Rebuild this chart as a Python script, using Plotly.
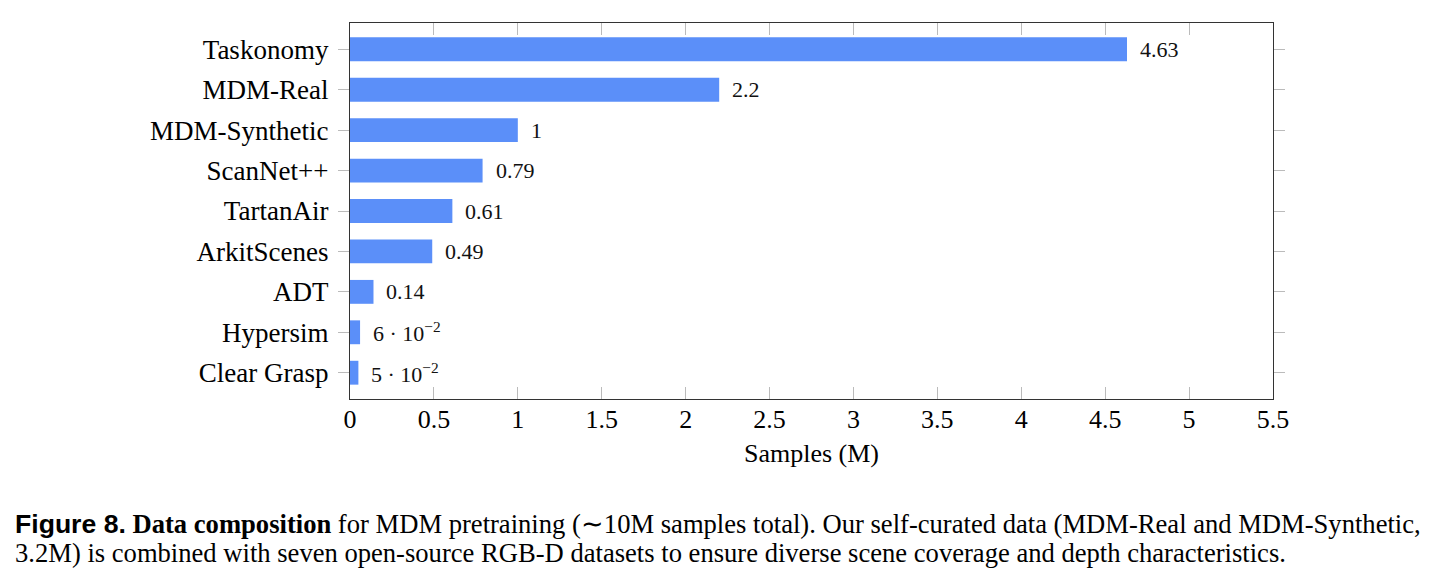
import plotly.graph_objects as go

datasets = ["Taskonomy", "MDM-Real", "MDM-Synthetic", "ScanNet++", "TartanAir",
            "ArkitScenes", "ADT", "Hypersim", "Clear Grasp"]
samples = [4.63, 2.2, 1.0, 0.79, 0.61, 0.49, 0.14, 0.06, 0.05]
value_labels = ["4.63", "2.2", "1", "0.79", "0.61", "0.49", "0.14",
                "6 · 10<sup>−2</sup>", "5 · 10<sup>−2</sup>"]
x_ticks = [0, 0.5, 1, 1.5, 2, 2.5, 3, 3.5, 4, 4.5, 5, 5.5]
x_tick_text = ["0", "0.5", "1", "1.5", "2", "2.5", "3", "3.5", "4", "4.5", "5", "5.5"]

SERIF = "Liberation Serif"
BAR = "#5b8ff9"

fig = go.Figure()
fig.add_trace(go.Bar(
    x=samples, y=datasets, orientation="h",
    marker=dict(color=BAR, line=dict(width=0)),
    width=0.59, hoverinfo="x+y",
))

for d, v, lab in zip(datasets, samples, value_labels):
    fig.add_annotation(x=v, y=d, xref="x", yref="y", text=lab, showarrow=False,
                       xanchor="left", yanchor="middle", xshift=11,
                       font=dict(family=SERIF, size=22, color="#111"))

L, R, T, B = 350, 172, 23, 186
W, H = 1445, 585
pw = W - L - R
ph = H - T - B

def px_x(p):
    return (p - L) / pw

def px_y(p):
    return (H - B - p) / ph

line1 = ("<span style='font-family:Liberation Sans'><b>Figure 8.</b></span> "
         "<b>Data composition</b> for MDM pretraining (∼10M samples total). "
         "Our self-curated data (MDM-Real and MDM-Synthetic,")
line2 = ("3.2M) is combined with seven open-source RGB-D datasets to ensure "
         "diverse scene coverage and depth characteristics.")
fig.add_annotation(x=px_x(13), y=px_y(524), xref="paper", yref="paper", text=line1,
                   showarrow=False, xanchor="left", yanchor="middle",
                   font=dict(family=SERIF, size=26.6, color="#000"))
fig.add_annotation(x=px_x(13), y=px_y(553), xref="paper", yref="paper", text=line2,
                   showarrow=False, xanchor="left", yanchor="middle",
                   font=dict(family=SERIF, size=26.6, color="#000"))

fig.update_layout(
    width=W, height=H,
    margin=dict(l=L, r=R, t=T, b=B),
    paper_bgcolor="white", plot_bgcolor="white",
    showlegend=False,
    font=dict(family=SERIF, color="#000"),
    xaxis=dict(
        range=[0, 5.5], tickvals=x_ticks, ticktext=x_tick_text,
        ticks="inside", ticklen=12, tickcolor="#bbbbbb", tickwidth=1.3,
        showline=True, linecolor="#333", linewidth=1.4, mirror="ticks",
        showgrid=False, zeroline=False, ticklabelstandoff=-3,
        tickfont=dict(family=SERIF, size=26, color="#000"),
        title=dict(text="Samples (M)", font=dict(family=SERIF, size=26, color="#000"),
                   standoff=10),
    ),
    yaxis=dict(
        type="category", categoryorder="array", categoryarray=datasets,
        range=[len(datasets) - 1 + 0.65, -0.65],
        ticks="outside", ticklen=11, tickcolor="#bbbbbb", tickwidth=1.3,
        showline=True, linecolor="#333", linewidth=1.4, mirror="ticks",
        showgrid=False, zeroline=False, ticklabelstandoff=4,
        tickfont=dict(family=SERIF, size=27, color="#000"),
    ),
)

fig.write_html("out.html")
